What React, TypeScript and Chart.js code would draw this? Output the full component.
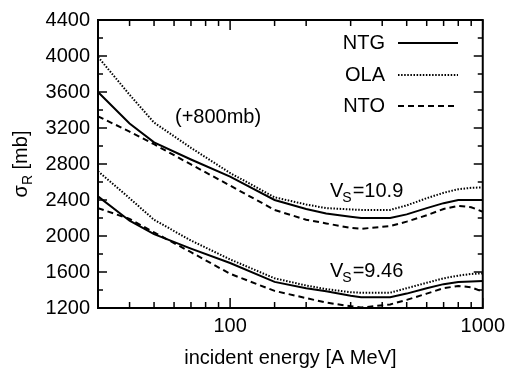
import React, { useEffect, useRef } from "react";
import { Chart, registerables } from "chart.js";
Chart.register(...registerables);

const FONT = '"Liberation Sans", Arial, Helvetica, sans-serif';

const energies = [30, 40, 50, 70, 100, 150, 200, 240, 300, 330, 430, 500, 600, 700, 800, 900, 1000];

// upper group (+800 mb), Vs = 10.9
const ntgHigh = [3600, 3250, 3040, 2850, 2660, 2400, 2300, 2250, 2215, 2200, 2200, 2240, 2310, 2365, 2400, 2400, 2400];
const olaHigh = [3990, 3570, 3260, 2980, 2700, 2430, 2350, 2310, 2295, 2290, 2290, 2340, 2420, 2480, 2520, 2535, 2540];
const ntoHigh = [3330, 3160, 3020, 2795, 2560, 2290, 2180, 2140, 2090, 2080, 2110, 2160, 2230, 2300, 2335, 2320, 2270];

// lower group, Vs = 9.46
const ntgLow = [2440, 2170, 2020, 1860, 1700, 1490, 1420, 1385, 1335, 1320, 1320, 1360, 1420, 1465, 1490, 1495, 1500];
const olaLow = [2720, 2420, 2180, 1950, 1740, 1530, 1450, 1410, 1375, 1370, 1370, 1420, 1480, 1530, 1560, 1578, 1585];
const ntoLow = [2310, 2190, 2040, 1820, 1580, 1390, 1310, 1260, 1220, 1205, 1240, 1290, 1360, 1420, 1445, 1430, 1380];

const seriesNames = ["NTG", "OLA", "NTO"];
const yTickLabels = [1200, 1600, 2000, 2400, 2800, 3200, 3600, 4000, 4400];
const xTickLabels = [100, 1000];

const styles: Record<string, { borderWidth: number; borderDash: number[] }> = {
  NTG: { borderWidth: 2, borderDash: [] },
  OLA: { borderWidth: 2, borderDash: [1.5, 1.6] },
  NTO: { borderWidth: 2, borderDash: [6, 4] },
};

function mk(name: string, vals: number[]) {
  return {
    label: name,
    data: energies.map((e, i) => ({ x: e, y: vals[i] })),
    borderColor: "#000",
    backgroundColor: "#000",
    borderWidth: styles[name].borderWidth,
    borderDash: styles[name].borderDash,
    pointRadius: 0,
    fill: false,
    tension: 0,
  };
}

const decorPlugin = {
  id: "decor",
  afterDraw(chart: any) {
    const { ctx, chartArea } = chart;
    const { left, right, top, bottom } = chartArea;
    const x = chart.scales.x;
    const y = chart.scales.y;
    ctx.save();
    ctx.strokeStyle = "#000";
    ctx.fillStyle = "#000";
    ctx.setLineDash([]);
    const seg = (x1: number, y1: number, x2: number, y2: number) => {
      ctx.beginPath();
      ctx.moveTo(x1, y1);
      ctx.lineTo(x2, y2);
      ctx.stroke();
    };
    // frame
    ctx.lineWidth = 2;
    ctx.strokeRect(left, top, right - left, bottom - top);
    // inward ticks
    ctx.lineWidth = 1.5;
    y.ticks.forEach((t: any) => {
      const py = y.getPixelForValue(t.value);
      const len = yTickLabels.includes(t.value) ? 9 : 5;
      seg(left, py, left + len, py);
      seg(right, py, right - len, py);
    });
    x.ticks.forEach((t: any) => {
      const px = x.getPixelForValue(t.value);
      const len = xTickLabels.includes(t.value) ? 10 : 6;
      seg(px, bottom, px, bottom - len);
      seg(px, top, px, top + len);
    });

    // legend
    const legY = [43, 75, 106];
    ctx.font = `20px ${FONT}`;
    ctx.textAlign = "right";
    ctx.textBaseline = "middle";
    seriesNames.forEach((n, i) => {
      ctx.setLineDash([]);
      ctx.fillText(n, 385, legY[i]);
      ctx.lineWidth = styles[n].borderWidth;
      ctx.setLineDash(styles[n].borderDash);
      seg(398, legY[i], 458, legY[i]);
    });
    ctx.setLineDash([]);

    // annotations
    ctx.textAlign = "left";
    ctx.textBaseline = "alphabetic";
    ctx.font = `20px ${FONT}`;
    ctx.fillText("(+800mb)", 175, 123);

    const vs = (txt: string, x0: number, base: number) => {
      ctx.font = `20px ${FONT}`;
      ctx.fillText("V", x0, base);
      const w1 = ctx.measureText("V").width;
      ctx.font = `14px ${FONT}`;
      ctx.fillText("S", x0 + w1 - 1, base + 5);
      const w2 = ctx.measureText("S").width;
      ctx.font = `20px ${FONT}`;
      ctx.fillText(txt, x0 + w1 + w2, base);
    };
    vs("=10.9", 330, 197);
    vs("=9.46", 330, 277);

    // x-axis title
    ctx.font = `20px ${FONT}`;
    ctx.textAlign = "center";
    ctx.textBaseline = "middle";
    ctx.fillText("incident energy [A MeV]", (left + right) / 2, 358);

    // y-axis title (rotated)
    ctx.save();
    ctx.translate(20, (top + bottom) / 2);
    ctx.rotate(-Math.PI / 2);
    ctx.textAlign = "left";
    ctx.textBaseline = "alphabetic";
    ctx.font = `20px ${FONT}`;
    const a = ctx.measureText("σ").width;
    const c = ctx.measureText(" [mb]").width;
    ctx.font = `14px ${FONT}`;
    const b = ctx.measureText("R").width;
    const total = a + b + c;
    let sx = -total / 2;
    ctx.font = `20px ${FONT}`;
    ctx.fillText("σ", sx, 7);
    sx += a;
    ctx.font = `14px ${FONT}`;
    ctx.fillText("R", sx, 12);
    sx += b;
    ctx.font = `20px ${FONT}`;
    ctx.fillText(" [mb]", sx, 7);
    ctx.restore();

    ctx.restore();
  },
};

export default function App() {
  const ref = useRef<HTMLCanvasElement | null>(null);
  useEffect(() => {
    if (!ref.current) return;
    const chart = new Chart(ref.current, {
      type: "line",
      data: {
        datasets: [
          mk("NTG", ntgHigh),
          mk("OLA", olaHigh),
          mk("NTO", ntoHigh),
          mk("NTG", ntgLow),
          mk("OLA", olaLow),
          mk("NTO", ntoLow),
        ],
      },
      options: {
        animation: false,
        responsive: false,
        maintainAspectRatio: false,
        layout: { padding: { top: 18, right: 28, left: 0, bottom: 0 } },
        plugins: { legend: { display: false }, tooltip: { enabled: false } },
        scales: {
          x: {
            type: "logarithmic",
            min: 30,
            max: 1000,
            grid: { display: false, drawTicks: false },
            border: { display: false },
            ticks: {
              autoSkip: false,
              maxRotation: 0,
              padding: 6,
              color: "#000",
              font: { family: FONT, size: 20 },
              callback: (v: any) => (xTickLabels.includes(Number(v)) ? String(v) : ""),
            },
            afterFit: (s: any) => {
              s.height = 63;
            },
          },
          y: {
            type: "linear",
            min: 1200,
            max: 4400,
            grid: { display: false, drawTicks: false },
            border: { display: false },
            ticks: {
              stepSize: 200,
              autoSkip: false,
              padding: 8,
              color: "#000",
              font: { family: FONT, size: 20 },
              callback: (v: any) => (yTickLabels.includes(Number(v)) ? String(v) : ""),
            },
            afterFit: (s: any) => {
              s.width = 98;
            },
          },
        },
      } as any,
      plugins: [decorPlugin],
    });
    return () => chart.destroy();
  }, []);
  return (
    <div style={{ position: "absolute", left: 0, top: 0, width: 511, height: 371, background: "#fff" }}>
      <canvas ref={ref} width={511} height={371} style={{ display: "block" }} />
    </div>
  );
}
